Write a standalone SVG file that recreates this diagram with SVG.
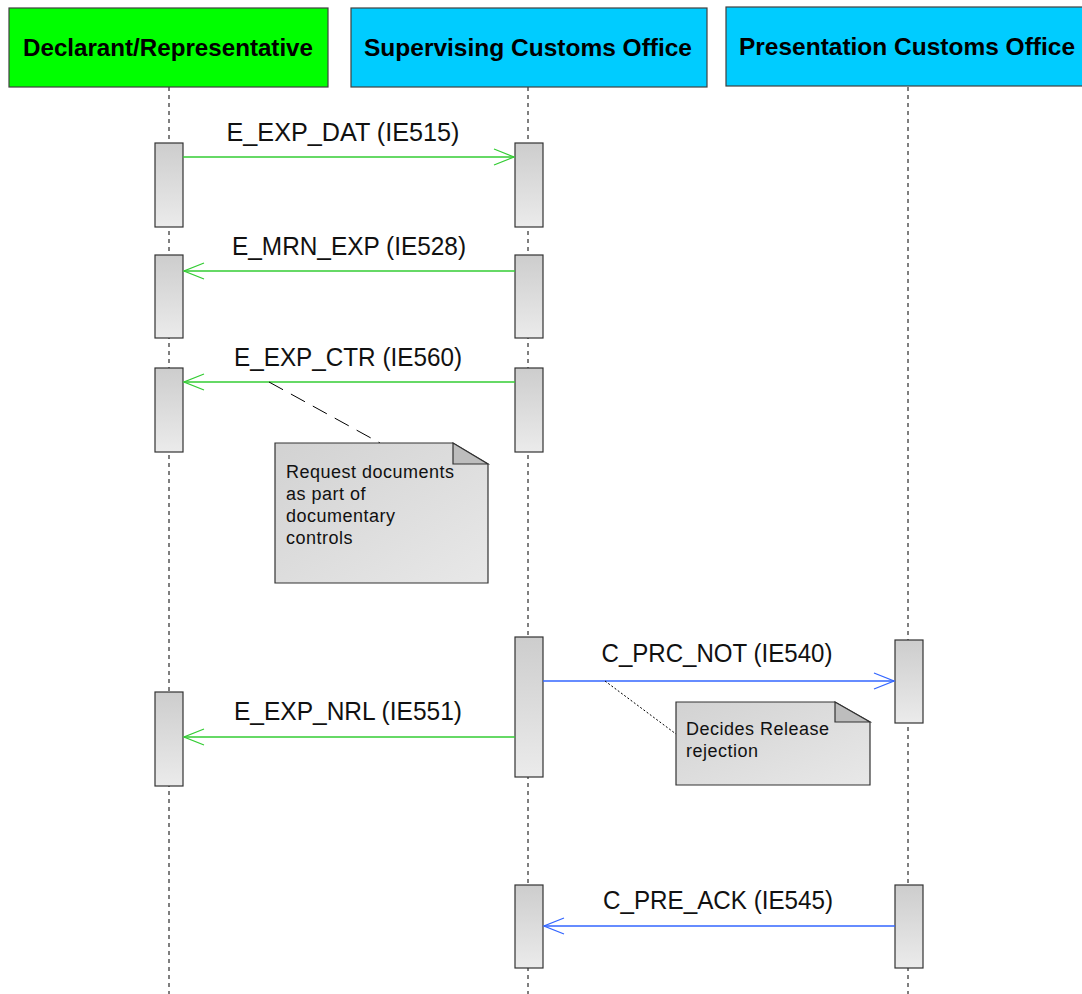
<svg xmlns="http://www.w3.org/2000/svg" width="1082" height="994" viewBox="0 0 1082 994">
<style>
.hdr{stroke:#404040;stroke-width:1.2}
.htxt{font-family:"Liberation Sans",Arial,sans-serif;font-weight:bold;font-size:24px;fill:#000;text-anchor:middle}
.life{stroke:#000;stroke-width:1;stroke-dasharray:4 4;fill:none}
.act{fill:url(#actg);stroke:#333;stroke-width:1.2}
.msg{font-family:"Liberation Sans",Arial,sans-serif;font-size:25px;fill:#111;text-anchor:middle}
.g{stroke:#33cc33;stroke-width:1.3;fill:none}
.b{stroke:#3366ff;stroke-width:1.3;fill:none}
.note{fill:url(#noteg);stroke:#333;stroke-width:1.2}
.fold{fill:#bdbdbd;stroke:#333;stroke-width:1.2}
.ntxt{font-family:"Liberation Sans",Arial,sans-serif;font-size:18px;letter-spacing:0.5px;fill:#111}
</style>
<defs>
<linearGradient id="actg" x1="0" y1="0" x2="0" y2="1">
<stop offset="0" stop-color="#cdcdcd"/>
<stop offset="1" stop-color="#ebebeb"/>
</linearGradient>
<linearGradient id="noteg" x1="0" y1="0" x2="1" y2="1">
<stop offset="0" stop-color="#d2d2d2"/>
<stop offset="1" stop-color="#e8e8e8"/>
</linearGradient>
</defs>
<rect width="1082" height="994" fill="#fff"/>
<g id="lifelines">
<line class="life" x1="169" y1="87" x2="169" y2="994"/>
<line class="life" x1="528" y1="87" x2="528" y2="994"/>
<line class="life" x1="908" y1="87" x2="908" y2="994"/>
</g>
<g id="declarant">
<rect class="hdr" x="9" y="8" width="319" height="79" fill="#00ff00"/>
<text class="htxt" x="168" y="56" textLength="290" lengthAdjust="spacingAndGlyphs">Declarant/Representative</text>
</g>
<g id="supervising">
<rect class="hdr" x="351" y="8" width="356" height="79" fill="#00ccff"/>
<text class="htxt" x="528" y="56" textLength="328" lengthAdjust="spacingAndGlyphs">Supervising Customs Office</text>
</g>
<g id="presentation">
<rect class="hdr" x="726" y="7" width="360" height="79" fill="#00ccff"/>
<text class="htxt" x="907" y="55" textLength="336" lengthAdjust="spacingAndGlyphs">Presentation Customs Office</text>
</g>
<g id="activations">
<rect class="act" x="155" y="143" width="28" height="84"/>
<rect class="act" x="515" y="143" width="28" height="84"/>
<rect class="act" x="155" y="255" width="28" height="83"/>
<rect class="act" x="515" y="255" width="28" height="83"/>
<rect class="act" x="155" y="368" width="28" height="84"/>
<rect class="act" x="515" y="368" width="28" height="84"/>
<rect class="act" x="515" y="637" width="28" height="140"/>
<rect class="act" x="895" y="640" width="28" height="83"/>
<rect class="act" x="155" y="692" width="28" height="94"/>
<rect class="act" x="515" y="885" width="28" height="83"/>
<rect class="act" x="895" y="885" width="28" height="83"/>
</g>
<g id="connectors">
<line class="g" x1="183" y1="157" x2="514" y2="157"/>
<polyline class="g" points="494,149 514,157 494,165"/>
<line class="g" x1="184" y1="271" x2="515" y2="271"/>
<polyline class="g" points="204,263 184,271 204,279"/>
<line class="g" x1="184" y1="382" x2="515" y2="382"/>
<polyline class="g" points="204,374 184,382 204,390"/>
<line class="b" x1="543" y1="681" x2="894" y2="681"/>
<polyline class="b" points="874,673 894,681 874,689"/>
<line class="g" x1="184" y1="737" x2="515" y2="737"/>
<polyline class="g" points="204,729 184,737 204,745"/>
<line class="b" x1="544" y1="926" x2="895" y2="926"/>
<polyline class="b" points="564,918 544,926 564,934"/>
<line x1="269" y1="382" x2="380" y2="443" stroke="#000" stroke-width="1" stroke-dasharray="16 9"/>
<line x1="605" y1="681" x2="676" y2="734" stroke="#000" stroke-width="1" stroke-dasharray="2 2"/>
</g>
<g id="labels">
<text class="msg" x="343" y="141" textLength="233" lengthAdjust="spacingAndGlyphs">E_EXP_DAT (IE515)</text>
<text class="msg" x="349" y="255" textLength="234" lengthAdjust="spacingAndGlyphs">E_MRN_EXP (IE528)</text>
<text class="msg" x="348" y="366" textLength="228" lengthAdjust="spacingAndGlyphs">E_EXP_CTR (IE560)</text>
<text class="msg" x="717" y="662" textLength="231" lengthAdjust="spacingAndGlyphs">C_PRC_NOT (IE540)</text>
<text class="msg" x="348" y="720" textLength="228" lengthAdjust="spacingAndGlyphs">E_EXP_NRL (IE551)</text>
<text class="msg" x="718" y="909" textLength="230" lengthAdjust="spacingAndGlyphs">C_PRE_ACK (IE545)</text>
</g>
<g id="note1">
<path class="note" d="M275,443 H453 L488,464 V583 H275 Z"/>
<path class="fold" d="M453,443 V464 H488 Z"/>
<text class="ntxt" x="286" y="478">Request documents</text>
<text class="ntxt" x="286" y="500">as part of</text>
<text class="ntxt" x="286" y="522">documentary</text>
<text class="ntxt" x="286" y="544">controls</text>
</g>
<g id="note2">
<path class="note" d="M676,702 H835 L870,722 V785 H676 Z"/>
<path class="fold" d="M835,702 V722 H870 Z"/>
<text class="ntxt" x="686" y="735">Decides Release</text>
<text class="ntxt" x="686" y="757">rejection</text>
</g>
</svg>
